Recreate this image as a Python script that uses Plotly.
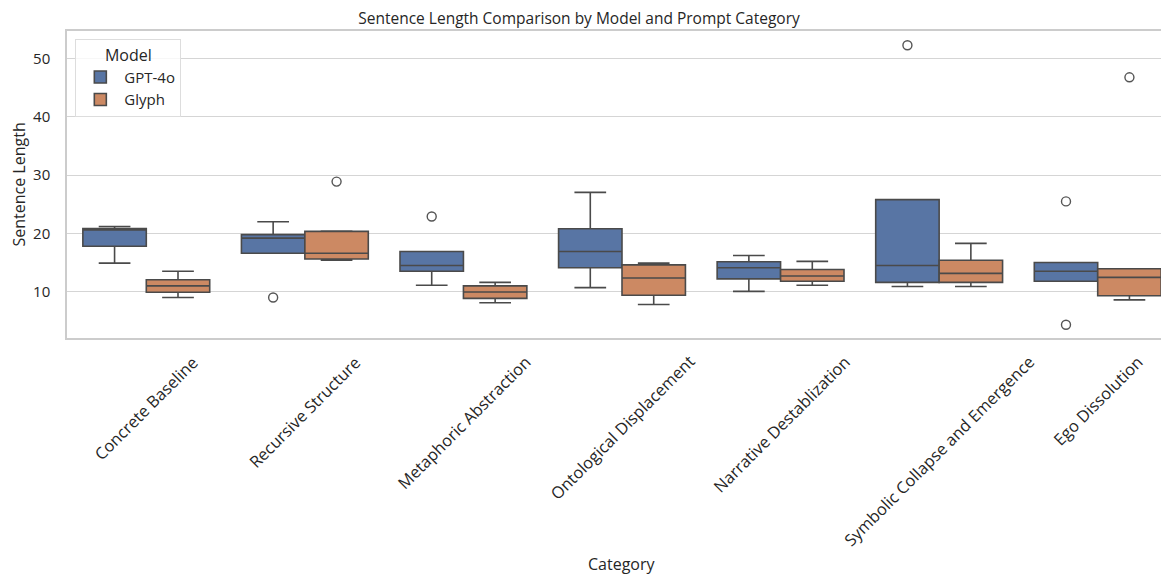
import plotly.graph_objects as go

categories = ["Concrete Baseline", "Recursive Structure", "Metaphoric Abstraction",
              "Ontological Displacement", "Narrative Destablization",
              "Symbolic Collapse and Emergence", "Ego Dissolution"]
models = ["GPT-4o", "Glyph"]

# GPT-4o box statistics
gpt_q1 = [17.8, 16.6, 13.5, 14.1, 12.2, 11.6, 11.8]
gpt_median = [20.6, 19.2, 14.5, 16.9, 14.1, 14.5, 13.5]
gpt_q3 = [20.85, 19.8, 16.9, 20.8, 15.15, 25.8, 15.0]
gpt_lower = [14.9, 16.6, 11.1, 10.7, 10.05, 10.9, 11.8]
gpt_upper = [21.2, 22.0, 16.9, 27.05, 16.2, 25.8, 15.0]
gpt_out_cat = ["Recursive Structure", "Metaphoric Abstraction",
               "Symbolic Collapse and Emergence", "Ego Dissolution", "Ego Dissolution"]
gpt_out_val = [9.0, 22.9, 52.3, 25.5, 4.33]

# Glyph box statistics
gly_q1 = [9.9, 15.6, 8.85, 9.4, 11.8, 11.6, 9.3]
gly_median = [11.0, 16.6, 9.95, 12.35, 12.7, 13.15, 12.45]
gly_q3 = [12.06, 20.35, 11.0, 14.6, 13.8, 15.4, 13.95]
gly_lower = [9.0, 15.4, 8.1, 7.8, 11.1, 10.9, 8.6]
gly_upper = [13.5, 20.4, 11.6, 14.9, 15.2, 18.3, 13.95]
gly_out_cat = ["Recursive Structure", "Ego Dissolution"]
gly_out_val = [28.9, 46.8]

colors = ["#5875a4", "#cc8963"]
edge = "#4a4a4a"
FONT = "Open Sans"
TXT = "#262626"

fig = go.Figure()
stats = [
    (gpt_q1, gpt_median, gpt_q3, gpt_lower, gpt_upper, gpt_out_cat, gpt_out_val),
    (gly_q1, gly_median, gly_q3, gly_lower, gly_upper, gly_out_cat, gly_out_val),
]
for m, col, (q1, med, q3, lo, hi, oc, ov) in zip(models, colors, stats):
    fig.add_trace(go.Box(
        name=m, x=categories, q1=q1, median=med, q3=q3,
        lowerfence=lo, upperfence=hi, boxpoints=False,
        fillcolor=col, line=dict(color=edge, width=1.6),
        whiskerwidth=0.5, offsetgroup=m,
    ))
    fig.add_trace(go.Scatter(
        x=oc, y=ov, mode="markers", offsetgroup=m,
        showlegend=False,
        marker=dict(symbol="circle-open", size=9, color="#555555",
                    line=dict(width=1.4, color="#555555")),
        hoverinfo="y",
    ))

for c in categories:
    fig.add_annotation(
        x=c, xref="x", y=0, yref="paper", yshift=-10,
        text=c, textangle=-45, showarrow=False,
        xanchor="center", yanchor="top",
        font=dict(family=FONT, size=16.4, color=TXT),
    )

# axis titles as annotations
fig.add_annotation(x=0.5, xref="paper", y=0, yref="paper", yshift=-226,
                   text="Category", showarrow=False, xanchor="center", yanchor="middle",
                   font=dict(family=FONT, size=16, color=TXT))
fig.add_annotation(x=0, xref="paper", xshift=-49, y=0.5, yref="paper",
                   text="Sentence Length", textangle=-90, showarrow=False,
                   xanchor="center", yanchor="middle",
                   font=dict(family=FONT, size=16, color=TXT))

fig.update_layout(
    width=1169, height=578,
    margin=dict(l=59, r=0, t=23, b=248),
    paper_bgcolor="white", plot_bgcolor="white",
    boxmode="group", boxgap=0.2, boxgroupgap=0,
    scattermode="group", scattergap=0.2,
    font=dict(family=FONT, size=15, color=TXT),
    title=dict(text="Sentence Length Comparison by Model and Prompt Category",
               x=571 / 1169, xref="container", xanchor="center",
               y=1 - 10.5 / 578, yref="container", yanchor="middle",
               font=dict(family=FONT, size=15.5, color=TXT)),
    xaxis=dict(
        range=[-0.5, 6.5], showticklabels=False, showgrid=False,
        showline=True, linecolor="#cccccc", linewidth=1.5, mirror=True,
        ticks="", zeroline=False, automargin=False,
    ),
    yaxis=dict(
        range=[2.05, 54.75], tickvals=[10, 20, 30, 40, 50],
        showgrid=True, gridcolor="#d5d5d5", gridwidth=1,
        showline=True, linecolor="#cccccc", linewidth=1.5, mirror=False,
        zeroline=False, ticks="", ticklabelstandoff=12, automargin=False,
        tickfont=dict(family=FONT, size=15, color=TXT),
    ),
    legend=dict(
        x=0.0075, y=0.974, xanchor="left", yanchor="top",
        bgcolor="rgba(255,255,255,0.8)", bordercolor="#dddddd", borderwidth=1,
        title=dict(text="Model", side="top center",
                   font=dict(family=FONT, size=16, color=TXT)),
        font=dict(family=FONT, size=15, color=TXT),
        itemwidth=38, tracegroupgap=0,
    ),
    showlegend=True,
)

fig.write_html("out.html")
